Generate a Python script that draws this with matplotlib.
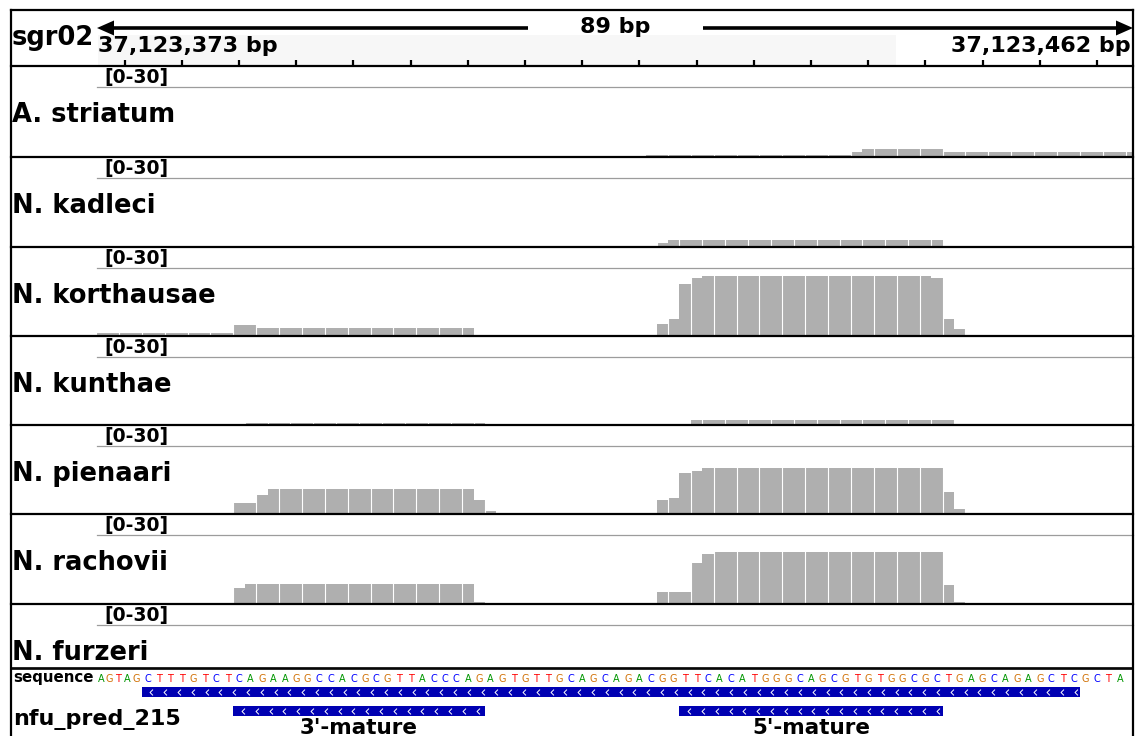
import matplotlib
matplotlib.use("Agg")
import matplotlib.pyplot as plt
from matplotlib import font_manager as fm
from matplotlib.patches import Rectangle, Polygon
from matplotlib.path import Path
import numpy as np

W, H, DPI = 1136, 736, 100

# ---------------- data ----------------
chrom = "sgr02"
start_label = "37,123,373 bp"
end_label = "37,123,462 bp"
span_label = "89 bp"
view_start = 372.5          # genomic offset from 37,123,000
view_end = 463.15
tick_positions = [375, 380, 385, 390, 395, 400, 405, 410, 415, 420,
                  425, 430, 435, 440, 445, 450, 455, 460]
data_range_label = "[0-30]"
data_max = 30

track_names = ["A. striatum", "N. kadleci", "N. korthausae", "N. kunthae",
               "N. pienaari", "N. rachovii", "N. furzeri"]

striatum_pos = list(range(421, 464))
striatum_cov = [0.9, 0.9, 0.9, 0.9, 0.9, 0.9, 0.9, 0.9, 0.9, 0.9, 0.9, 0.9,
                0.9, 0.9, 0.9, 0.9, 0.9, 0.9, 2.2, 3.5, 3.5, 3.5, 3.5, 3.5,
                3.5, 3.5, 2.2, 2.2, 2.2, 2.2, 2.2, 2.2, 2.2, 2.2, 2.2, 2.2,
                2.2, 2.2, 2.2, 2.2, 2.2, 2.2, 2.2]

kadleci_pos = list(range(422, 447))
kadleci_cov = [1.6, 2.9, 2.9, 2.9, 2.9, 2.9, 2.9, 2.9, 2.9, 2.9, 2.9, 2.9,
               2.9, 2.9, 2.9, 2.9, 2.9, 2.9, 2.9, 2.9, 2.9, 2.9, 2.9, 2.9, 2.9]

korthausae_pos = list(range(373, 406)) + list(range(422, 449))
korthausae_cov = [1.3, 1.3, 1.3, 1.3, 1.3, 1.3, 1.3, 1.3, 1.3, 1.3, 1.3, 1.3,
                  4.9, 4.9, 3.7, 3.7, 3.7, 3.7, 3.7, 3.7, 3.7, 3.7, 3.7, 3.7,
                  3.7, 3.7, 3.7, 3.7, 3.7, 3.7, 3.7, 3.7, 3.7,
                  5.1, 7.7, 23.1, 25.7, 26.6, 26.6, 26.6, 26.6, 26.6, 26.6,
                  26.6, 26.6, 26.6, 26.6, 26.6, 26.6, 26.6, 26.6, 26.6, 26.6,
                  26.6, 26.6, 26.6, 26.6, 25.7, 7.7, 3.0]

kunthae_pos = list(range(386, 407)) + list(range(425, 448))
kunthae_cov = [0.7, 0.7, 0.7, 0.7, 0.7, 0.7, 0.7, 0.7, 0.7, 0.7, 0.7, 0.7,
               0.7, 0.7, 0.7, 0.7, 0.7, 0.7, 0.7, 0.7, 0.7,
               2.1, 2.1, 2.1, 2.1, 2.1, 2.1, 2.1, 2.1, 2.1, 2.1, 2.1, 2.1,
               2.1, 2.1, 2.1, 2.1, 2.1, 2.1, 2.1, 2.1, 2.1, 2.1, 2.1]

pienaari_pos = list(range(385, 408)) + list(range(422, 449))
pienaari_cov = [4.9, 4.9, 8.3, 10.9, 10.9, 10.9, 10.9, 10.9, 10.9, 10.9, 10.9,
                10.9, 10.9, 10.9, 10.9, 10.9, 10.9, 10.9, 10.9, 10.9, 10.9,
                6.1, 1.4,
                6.1, 7.0, 18.2, 19.0, 20.3, 20.3, 20.3, 20.3, 20.3, 20.3,
                20.3, 20.3, 20.3, 20.3, 20.3, 20.3, 20.3, 20.3, 20.3, 20.3,
                20.3, 20.3, 20.3, 20.3, 20.3, 9.6, 2.3]

rachovii_pos = list(range(385, 407)) + list(range(422, 449))
rachovii_cov = [7.1, 8.5, 8.5, 8.5, 8.5, 8.5, 8.5, 8.5, 8.5, 8.5, 8.5, 8.5,
                8.5, 8.5, 8.5, 8.5, 8.5, 8.5, 8.5, 8.5, 8.5, 1.0,
                5.3, 5.3, 5.3, 17.8, 21.6, 22.5, 22.5, 22.5, 22.5, 22.5,
                22.5, 22.5, 22.5, 22.5, 22.5, 22.5, 22.5, 22.5, 22.5, 22.5,
                22.5, 22.5, 22.5, 22.5, 22.5, 8.3, 1.0]

furzeri_pos = []
furzeri_cov = []

# the first five letters are squeezed into the first four base cells in the view
sequence_squeezed = "AGTAG"
sequence_main_start = 377
sequence_main = "CTTTGTCTCAGAAGGCCACGCGTTACCCAGAGTGTTGCAGCAGACGGTTCACATGGGCAGCGTGTGGCGCTGAGCAGAGCTCGCTA"
base_colors = {"A": "#009600", "C": "#0000ff", "G": "#d17105", "T": "#ff0000"}

feature_name = "nfu_pred_215"
precursor_start, precursor_end = 377, 458
mature_names = ["3'-mature", "5'-mature"]
mature_starts = [385, 424]
mature_ends = [406, 446]

# ---------------- layout ----------------
coverage = [(striatum_pos, striatum_cov), (kadleci_pos, kadleci_cov),
            (korthausae_pos, korthausae_cov), (kunthae_pos, kunthae_cov),
            (pienaari_pos, pienaari_cov), (rachovii_pos, rachovii_cov),
            (furzeri_pos, furzeri_cov)]

BOLD = dict(family="DejaVu Sans", fontweight="bold", color="black")
names = {f.name for f in fm.fontManager.ttflist}
seq_family = "Liberation Sans Narrow" if "Liberation Sans Narrow" in names else "DejaVu Sans"
seq_size = 8.5 if seq_family != "DejaVu Sans" else 7.0

fig = plt.figure(figsize=(W / DPI, H / DPI), dpi=DPI)


def rect(x0, y0, x1, y1):
    return [x0 / W, 1 - y1 / H, (x1 - x0) / W, (y1 - y0) / H]


def pixel_axes(z):
    a = fig.add_axes([0, 0, 1, 1], zorder=z)
    a.set_xlim(0, W)
    a.set_ylim(H, 0)
    a.axis("off")
    a.patch.set_alpha(0)
    return a


bg = pixel_axes(0)
fg = pixel_axes(10)

DX0, DX1 = 96, 1133
dividers = [66, 157, 247, 336, 425, 514, 604, 668]
BORDER_L, BORDER_R, BORDER_T = 11, 1133, 10

# header
bg.add_patch(Rectangle((98, 35), 896 - 98, 30, color="#f7f7f7", lw=0))
fg.text(12, 45, chrom, fontsize=18.5, va="baseline", ha="left", **BOLD)
rax = fig.add_axes(rect(DX0, BORDER_T, DX1, dividers[0]), zorder=5)
rax.set_xlim(view_start, view_end)
rax.set_ylim(dividers[0], BORDER_T)
rax.axis("off")
rax.patch.set_alpha(0)
rax.vlines(tick_positions, 60, 66, color="black", lw=1.6)
rax.text(view_start + 0.15, 52, start_label, fontsize=16, ha="left", va="baseline", **BOLD)
rax.text(view_end - 0.25, 52, end_label, fontsize=16, ha="right", va="baseline", **BOLD)

# span arrow
bg.plot([110, 528], [28, 28], color="black", lw=2.6, solid_capstyle="butt")
bg.plot([703, 1120], [28, 28], color="black", lw=2.6, solid_capstyle="butt")
bg.add_patch(Polygon([(97, 28), (114, 20.5), (114, 35.5)], closed=True, color="black", lw=0))
bg.add_patch(Polygon([(1133, 28), (1116, 20.5), (1116, 35.5)], closed=True, color="black", lw=0))
bg.text(615.5, 33, span_label, fontsize=16, ha="center", va="baseline", **BOLD)

# tracks
for i, name in enumerate(track_names):
    top, bottom = dividers[i], dividers[i + 1]
    ax = fig.add_axes(rect(DX0, top + 21, DX1, bottom), zorder=5)
    ax.set_xlim(view_start, view_end)
    ax.set_ylim(0, data_max)
    ax.axis("off")
    ax.patch.set_alpha(0)
    pos, cov = coverage[i]
    if pos:
        ax.bar(pos, cov, width=1.0, color="#afafaf", linewidth=0)
        edges = np.arange(pos[0] - 0.5, pos[-1] + 0.6, 2.0)
        ax.vlines(edges, 0, data_max * 0.95, color="white", lw=0.8)
    bg.plot([DX0 + 1, DX1], [top + 21, top + 21], color="#9c9c9c", lw=0.9)
    fg.text(104, top + 17, data_range_label, fontsize=13.5, ha="left", va="baseline", **BOLD)
    fg.text(12, top + 56, name, fontsize=18.5, ha="left", va="baseline", **BOLD)

# sequence + feature track
sax = fig.add_axes(rect(DX0, dividers[-1], DX1, H), zorder=5)
sax.set_xlim(view_start, view_end)
sax.set_ylim(H, dividers[-1])
sax.axis("off")
sax.patch.set_alpha(0)
fg.text(13, 682, "sequence", fontsize=10.8, ha="left", va="baseline", **BOLD)
squeezed_x = np.linspace(view_start + 0.42, sequence_main_start - 1.0, len(sequence_squeezed))
main_x = sequence_main_start + np.arange(len(sequence_main))
for x, ch in zip(list(squeezed_x) + list(main_x), sequence_squeezed + sequence_main):
    sax.text(x, 682.5, ch, color=base_colors[ch], fontsize=seq_size,
             family=seq_family, ha="center", va="baseline", clip_on=True)

FEAT = "#0000b2"
chevron = Path([(0.5, 1.0), (-0.5, 0.0), (0.5, -1.0)],
               [Path.MOVETO, Path.LINETO, Path.LINETO])
step = 13.8 / 11.44


def feature(s, e, y0, h):
    sax.add_patch(Rectangle((s - 0.5, y0), e - s + 1, h, color=FEAT, lw=0))
    xs = np.arange(s - 0.5 + 0.85, e + 0.5 - 0.3, step)
    sax.plot(xs, np.full(len(xs), y0 + h / 2), ls="none", marker=chevron,
             markersize=4.2, markeredgecolor="white", markerfacecolor="none",
             markeredgewidth=0.7)


feature(precursor_start, precursor_end, 687, 10)
for nm, s, e in zip(mature_names, mature_starts, mature_ends):
    feature(s, e, 706, 10)
    sax.text((s + e) / 2, 734, nm, fontsize=15.5, ha="center", va="baseline",
             clip_on=False, **BOLD)
fg.text(13, 725, feature_name, fontsize=16, ha="left", va="baseline", **BOLD)

# frame and dividers
fg.plot([BORDER_L, BORDER_R], [BORDER_T, BORDER_T], color="black", lw=1.6)
fg.plot([BORDER_L, BORDER_L], [BORDER_T, H], color="black", lw=1.6)
fg.plot([BORDER_R, BORDER_R], [BORDER_T, H], color="black", lw=1.6)
for d in dividers[:-1]:
    fg.plot([BORDER_L, BORDER_R], [d, d], color="black", lw=1.6)
fg.plot([BORDER_L, BORDER_R], [dividers[-1] - 0.5, dividers[-1] - 0.5], color="black", lw=1.2)
fg.plot([BORDER_L, BORDER_R], [dividers[-1] + 1.2, dividers[-1] + 1.2], color="black", lw=1.2)

fig.savefig("out.png", dpi=DPI)
